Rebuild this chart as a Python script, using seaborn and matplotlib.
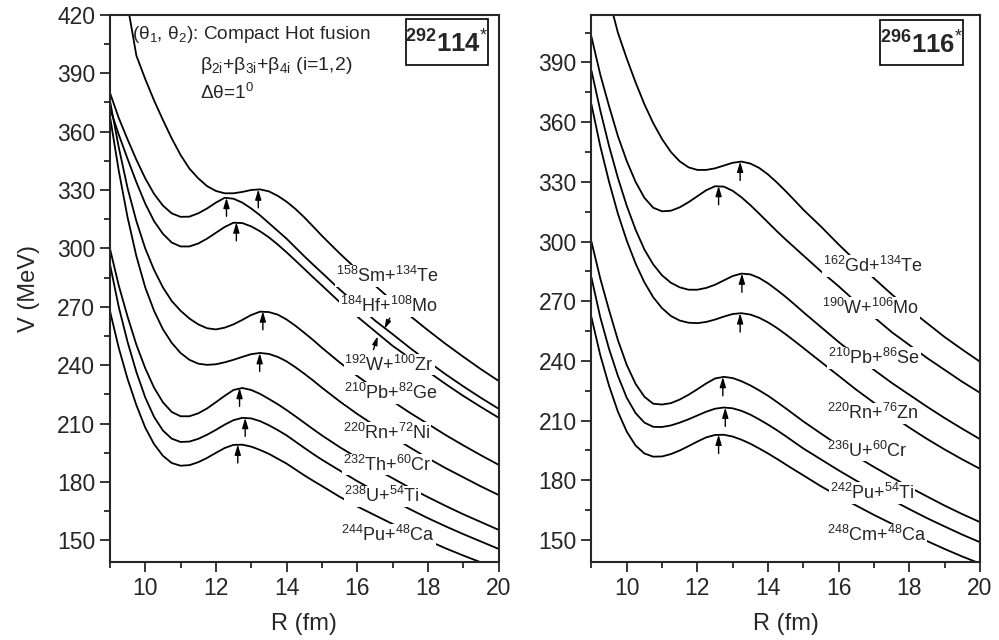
import numpy as np
import pandas as pd
import matplotlib.pyplot as plt
import seaborn as sns
from matplotlib.ticker import MultipleLocator
from matplotlib.patches import Rectangle

# R grid (fm), shared by all curves: 0.25 fm steps up to 15, then 0.5 fm
R = [9.0, 9.25, 9.5, 9.75, 10.0, 10.25, 10.5, 10.75, 11.0, 11.25, 11.5, 11.75,
     12.0, 12.25, 12.5, 12.75, 13.0, 13.25, 13.5, 13.75, 14.0, 14.25, 14.5, 14.75,
     15.0, 15.5, 16.0, 16.5, 17.0, 17.5, 18.0, 18.5, 19.0, 19.5, 20.0]
nan = np.nan

# ---- 292 114* panel (V in MeV) ----
sm_te = [nan, nan, 425, 399, 387, 376, 366, 356.5, 348, 341, 336, 332, 329.5, 328.3, 328.3, 329, 330, 330.3,
         329.3, 327, 324, 320.3, 316, 311.3, 306.5, 297.5, 289, 281, 273, 265.3, 258, 251, 244.4, 238, 232]
hf_mo = [380, 367, 356, 345.5, 336, 328, 322, 318, 316.2, 316.3, 318, 320.5, 323.5, 326, 325.5, 323.5, 320.5,
         317, 313, 309, 305, 300.5, 296, 291.7, 287.5, 279, 271, 263, 256, 248.8, 242, 235.4, 229.2, 223.3, 217.7]
w_zr = [372, 358.5, 346, 334, 323, 314, 307.5, 303, 301, 301, 302.5, 305, 308, 311, 313.2, 313, 311.3, 308.8,
        305.7, 302, 298, 293.8, 289.5, 285.2, 281, 272.5, 265, 257.5, 250, 243.6, 236.8, 230.4, 224.3, 218.6, 213.1]
pb_ge = [376, 352, 331, 314, 300, 289, 280, 273, 268, 264, 261, 259, 258.4, 259.3, 261, 263.3,
         265.8, 267.5, 267.3, 266, 263.5, 260.3, 256.7, 253, 249, 241.5, 234.5, 228, 221.5, 215.5, 209.9, 204.2,
         198.9, 193.8, 188.9]
rn_ni = [368, 340, 316, 296, 280, 268, 258.5, 251.5, 246.3, 242.8, 240.8, 240.2, 240.5, 241.5, 242.8,
         244.3, 245.7, 246.3, 245.8, 244.3, 242, 239, 235.7, 232.2, 228.5, 221.5, 215, 209, 203.3, 197.7, 192.3,
         187.2, 182.5, 177.8, 173.4]
th_cr = [300, 281, 265, 250.5, 238.5, 228.5, 221, 216, 213.8, 213.8, 215.3, 217.8, 221, 224.3, 227.3, 228.3,
         227.3, 225.3, 222.7, 220, 217, 213.8, 210.5, 207.2, 204, 198, 192.5, 187, 182, 177, 172.3, 167.8, 163.5,
         159.5, 155.5]
u_ti = [292, 270, 252, 236.5, 223.5, 213.5, 206.5, 202.3, 200.6, 200.8, 202.2, 204.3, 206.8, 209.5, 211.8, 213,
        212.7, 211.3, 209.2, 206.7, 204, 200.8, 197.6, 194.5, 191.5, 186, 180.5, 175.5, 170.7, 166, 161.5, 157.3,
        153.3, 149.5, 145.7]
pu_ca = [268, 249, 233, 219.5, 208, 199.5, 193.5, 189.8, 188.4, 188.7, 190.2, 192.4, 195, 197.5, 199.1, 199.2,
         198.2, 196.5, 194.5, 192, 189.5, 186.5, 183.5, 180.7, 178, 172.5, 167.5, 163, 158.5, 154.2, 150, 146,
         142.3, 138.8, 135.4]
left_curves = [sm_te, hf_mo, w_zr, pb_ge, rn_ni, th_cr, u_ti, pu_ca]
left_barrier_R = [13.2, 12.3, 12.58, 13.33, 13.24, 12.67, 12.83, 12.62]
left_barrier_V = [330.3, 326, 313.4, 267.7, 246.3, 228.4, 213, 199.3]
left_labels = [r"$^{158}$Sm+$^{134}$Te", r"$^{184}$Hf+$^{108}$Mo", r"$^{192}$W+$^{100}$Zr",
               r"$^{210}$Pb+$^{82}$Ge", r"$^{220}$Rn+$^{72}$Ni", r"$^{232}$Th+$^{60}$Cr",
               r"$^{238}$U+$^{54}$Ti", r"$^{244}$Pu+$^{48}$Ca"]
left_label_R = [15.4, 15.5, 15.64, 15.64, 15.6, 15.6, 15.64, 15.55]
left_label_V = [285.7, 270.3, 240.3, 225.8, 205.3, 189, 172.7, 153]

# ---- 296 116* panel ----
gd_te = [nan, nan, 422, 405, 392, 380, 369, 359.5, 351.5, 345, 340.3, 337.3, 336, 336, 336.8, 338.2, 339.6,
         340.2, 339.2, 337, 333.7, 329.7, 325.3, 320.7, 316, 307.5, 298.5, 290, 281.5, 273.5, 266, 259, 252,
         245.7, 239.6]
w_mo = [403, 384, 368, 353, 340.5, 330, 322, 317, 315.2, 315.5, 317.2, 319.8, 322.8, 325.8, 327.8, 327.6, 325.5,
        322.2, 318.3, 314, 309.6, 305.2, 301, 297, 293, 285, 277.5, 269.5, 262, 254.5, 248, 241.5, 235.5,
        229.5, 224]
pb_se = [386, 366, 348, 332, 318, 306, 296, 288.5, 283, 279.3, 277, 275.8, 275.8, 276.7, 278.3, 280.5,
         282.7, 283.9, 283.5, 281.7, 279, 275.7, 272.2, 268.4, 264.5, 257, 249.5, 242.5, 235.5, 229, 223, 217,
         211.3, 205.9, 200.7]
rn_zn = [369, 348, 330, 314, 300.5, 289, 279.5, 272, 266.5, 262.6, 260.3, 259.2, 259, 259.6, 260.8, 262.3,
         263.6, 264, 263.3, 261.7, 259.4, 256.6, 253.4, 250, 246.5, 239.5, 232.5, 225.5, 219, 212.5, 206.5,
         200.8, 195.5, 190.5, 185.8]
u_cr = [300, 281.5, 265.5, 250.5, 238, 228.5, 222, 218.5, 218.1, 218.8, 220.6, 223, 225.8, 228.7, 231.2, 232,
        231.4, 229.8, 227.7, 225.2, 222.5, 219.4, 216.2, 212.9, 209.6, 203.5, 197.5, 192, 186.7, 181.6, 176.6,
        171.9, 167.3, 163, 159]
pu_ti = [282, 262, 246, 232.5, 221.5, 213.8, 209, 206.9, 206.8, 207.6, 209, 210.7, 212.6, 214.5, 216, 216.6,
         216.2, 214.9, 213, 210.6, 208, 205.2, 202.2, 199.1, 196, 190.5, 185, 179.8, 175, 170.2, 165.5, 161,
         156.8, 152.7, 148.9]
cm_ca = [262, 243, 227.5, 214.5, 204.5, 197.5, 193.5, 191.9, 192, 193.2, 195, 197.2, 199.5, 201.6, 202.8, 202.9,
         202, 200.4, 198.4, 196, 193.5, 190.8, 188, 185.2, 182.5, 177, 172, 167.3, 162.6, 158.2, 153.8, 149.5,
         145.5, 141.7, 138.2]
right_curves = [gd_te, w_mo, pb_se, rn_zn, u_cr, pu_ti, cm_ca]
right_barrier_R = [13.21, 12.6, 13.26, 13.21, 12.72, 12.79, 12.6]
right_barrier_V = [340.2, 328, 284, 264, 232, 216.6, 203]
right_labels = [r"$^{162}$Gd+$^{134}$Te", r"$^{190}$W+$^{106}$Mo", r"$^{210}$Pb+$^{86}$Se",
                r"$^{220}$Rn+$^{76}$Zn", r"$^{236}$U+$^{60}$Cr", r"$^{242}$Pu+$^{54}$Ti",
                r"$^{248}$Cm+$^{48}$Ca"]
right_label_R = [15.55, 15.52, 15.69, 15.66, 15.66, 15.75, 15.66]
right_label_V = [287.7, 266.6, 241.4, 213.7, 195, 173.5, 152.4]

sns.set_style("ticks")
plt.rcParams['font.family'] = ['Liberation Sans', 'DejaVu Sans']
plt.rcParams['mathtext.fontset'] = 'custom'
plt.rcParams['mathtext.rm'] = 'Liberation Sans'
plt.rcParams['mathtext.it'] = 'Liberation Sans:italic'
plt.rcParams['mathtext.bf'] = 'Liberation Sans:bold'

fig = plt.figure(figsize=(9.99, 6.4), dpi=100)
ax_l = fig.add_axes([0.110, 0.122, 0.389, 0.855])
ax_r = fig.add_axes([0.592, 0.122, 0.389, 0.855])

arrow_kw = dict(arrowstyle="-|>,head_length=0.6,head_width=0.18",
                color="black", lw=1.0, shrinkA=0, shrinkB=0)


def draw_panel(ax, curves, bR, bV, labels, lR, lV, ylim, yticks):
    for V in curves:
        df = pd.DataFrame({"R": R, "V": V}).dropna()
        sns.lineplot(data=df, x="R", y="V", color="black", lw=1.3, ax=ax, sort=False)
    # barrier arrows
    for x, y in zip(bR, bV):
        ax.annotate("", xy=(x, y), xytext=(x, y - 9.5), arrowprops=arrow_kw)
    for t, x, y in zip(labels, lR, lV):
        ax.text(x, y, t, fontsize=13, ha="left", va="center",
                bbox=dict(facecolor="white", edgecolor="none", pad=0.5))
    ax.set_xlim(9, 20)
    ax.set_ylim(*ylim)
    ax.set_xticks([10, 12, 14, 16, 18, 20])
    ax.set_yticks(yticks)
    ax.xaxis.set_minor_locator(MultipleLocator(1))
    ax.yaxis.set_minor_locator(MultipleLocator(15))
    ax.tick_params(which="major", direction="out", length=7, width=1.3, labelsize=16.5)
    ax.tick_params(which="minor", direction="out", length=4, width=1.3)
    for s in ax.spines.values():
        s.set_linewidth(1.5)
        s.set_visible(True)
    ax.set_xlabel("R (fm)", fontsize=17, labelpad=10)
    ax.set_ylabel("")


draw_panel(ax_l, left_curves, left_barrier_R, left_barrier_V, left_labels,
           left_label_R, left_label_V, (139, 420), range(150, 421, 30))
draw_panel(ax_r, right_curves, right_barrier_R, right_barrier_V, right_labels,
           right_label_R, right_label_V, (139, 414), range(150, 391, 30))
ax_l.set_ylabel("V (MeV)", fontsize=17, labelpad=12)

# arrows marking the two close curves
small_kw = dict(arrowstyle="-|>,head_length=0.5,head_width=0.15", color="black", lw=1.0,
                shrinkA=0, shrinkB=0)
ax_l.annotate("", xy=(16.77, 258.7), xytext=(16.92, 264.2), arrowprops=small_kw)
ax_l.annotate("", xy=(16.58, 254.9), xytext=(16.46, 248.0), arrowprops=small_kw)

ax_l.text(0.056, 0.963, "(θ$_1$, θ$_2$): Compact Hot fusion", transform=ax_l.transAxes,
          fontsize=13.7, va="center", ha="left")
ax_l.text(0.231, 0.907, r"β$_\mathrm{2i}$+β$_\mathrm{3i}$+β$_\mathrm{4i}$ (i=1,2)",
          transform=ax_l.transAxes, fontsize=14, va="center", ha="left")
ax_l.text(0.231, 0.857, "Δθ=1$^0$", transform=ax_l.transAxes,
          fontsize=13.7, va="center", ha="left")

# nucleus boxes
for ax, x0, x1, y0, y1, txt in [
        (ax_l, 0.761, 0.974, 0.909, 0.993, r"$^{\mathbf{292}}$$\mathbf{114}$$^{*}$"),
        (ax_r, 0.743, 0.956, 0.909, 0.990, r"$^{\mathbf{296}}$$\mathbf{116}$$^{*}$")]:
    ax.add_patch(Rectangle((x0, y0), x1 - x0, y1 - y0, transform=ax.transAxes,
                           facecolor="white", edgecolor="black", lw=1.2, zorder=5))
    ax.text((x0 + x1) / 2, (y0 + y1) / 2 - 0.004, txt, transform=ax.transAxes,
            fontsize=18.5, ha="center", va="center", zorder=6)

fig.savefig("out.png", dpi=100)
